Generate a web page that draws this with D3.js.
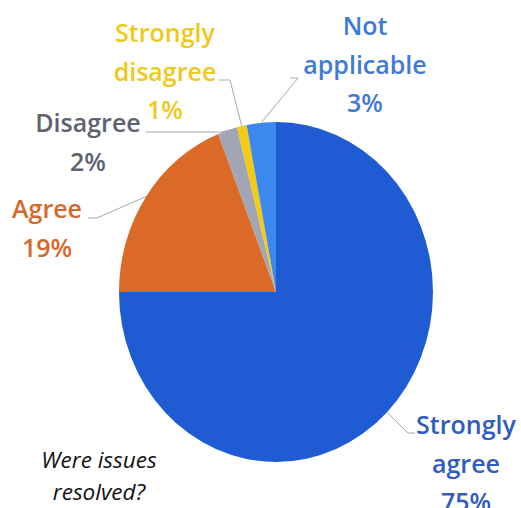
<!DOCTYPE html>
<html>
<head>
<meta charset="utf-8">
<script src="https://cdn.jsdelivr.net/npm/d3@7"></script>
<style>
  html, body { margin: 0; padding: 0; background: #ffffff; }
  svg { display: block; }
</style>
</head>
<body>
<script>
// Survey responses: "Were issues resolved?"
const categories = ["Strongly agree", "Agree", "Disagree", "Strongly disagree", "Not applicable"];
const values = [75, 19, 2, 1, 3];
const percentLabels = ["75%", "19%", "2%", "1%", "3%"];
const sliceColors = ["#1f5cd4", "#db6a28", "#a2a5b3", "#f4cb12", "#3d88ee"];
const labelColors = ["#2f5cbd", "#d4692b", "#5d6170", "#efc81c", "#3f7bd6"];

const W = 521, H = 508;
const cx = 276, cy = 292, rx = 157, ry = 170;

// Label block placement: centre x, first baseline, elbow point and line end
const labelLayout = [
  { x: 466, y: 434, lines: ["Strongly", "agree"], ex: 408, ey: 433, lx: 415 },
  { x: 47,  y: 218, lines: ["Agree"],             ex: 97,  ey: 218, lx: 88 },
  { x: 88,  y: 132, lines: ["Disagree"],          ex: 222, ey: 132, lx: 146 },
  { x: 165, y: 42,  lines: ["Strongly", "disagree"], ex: 230, ey: 80, lx: 219 },
  { x: 365, y: 35,  lines: ["Not", "applicable"], ex: 298, ey: 78, lx: 290 }
];
const lineGap = 38.5;

const svg = d3.select("body").append("svg")
  .attr("width", W).attr("height", H);

const pie = d3.pie().sort(null).value(d => d.value).startAngle(0).endAngle(2 * Math.PI);
const data = categories.map((c, i) => ({ name: c, value: values[i], i }));
const arcs = pie(data);
const arc = d3.arc().innerRadius(0).outerRadius(rx);

// Pie drawn as a circle of radius rx stretched vertically to ry
svg.append("g")
  .attr("transform", `translate(${cx},${cy}) scale(1,${ry / rx})`)
  .selectAll("path")
  .data(arcs)
  .join("path")
  .attr("d", arc)
  .attr("fill", d => sliceColors[d.data.i]);

// Leader lines from slice mid-angle on the rim to each label
const leader = svg.append("g")
  .attr("fill", "none")
  .attr("stroke", "#a8a8a8")
  .attr("stroke-width", 1);

arcs.forEach(a => {
  const L = labelLayout[a.data.i];
  const mid = (a.startAngle + a.endAngle) / 2;
  const px = cx + rx * Math.sin(mid);
  const py = cy - ry * Math.cos(mid);
  leader.append("polyline")
    .attr("points", [[px, py], [L.ex, L.ey], [L.lx, L.ey]].map(p => p.join(",")).join(" "));
});

// Category and percentage labels
const labels = svg.append("g")
  .attr("font-family", "'Open Sans', Lato, sans-serif")
  .attr("font-weight", 600)
  .attr("font-size", 25)
  .attr("text-anchor", "middle");

arcs.forEach(a => {
  const i = a.data.i;
  const L = labelLayout[i];
  const t = labels.append("text").attr("fill", labelColors[i]);
  L.lines.concat([percentLabels[i]]).forEach((s, k) => {
    t.append("tspan").attr("x", L.x).attr("y", L.y + k * lineGap).text(s);
  });
});

// Chart caption
const cap = svg.append("text")
  .attr("font-family", "'Open Sans', Lato, sans-serif")
  .attr("font-style", "italic")
  .attr("font-weight", 500)
  .attr("font-size", 22.5)
  .attr("fill", "#111111")
  .attr("text-anchor", "middle");
cap.append("tspan").attr("x", 99).attr("y", 468).text("Were issues");
cap.append("tspan").attr("x", 99).attr("y", 500).text("resolved?");
</script>
</body>
</html>
